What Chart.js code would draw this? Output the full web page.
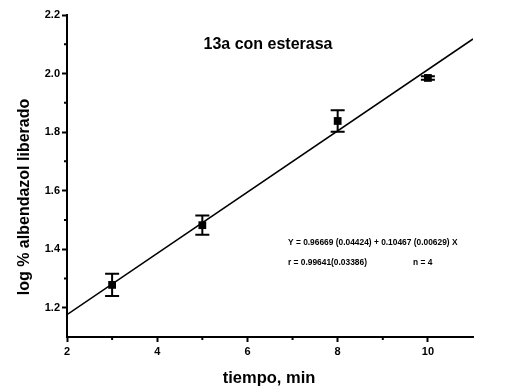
<!DOCTYPE html>
<html>
<head>
<meta charset="utf-8">
<script src="https://cdn.jsdelivr.net/npm/chart.js@4.4.0/dist/chart.umd.min.js"></script>
<style>
  html, body { margin: 0; padding: 0; background: #fff; }
  #wrap { width: 510px; height: 392px; }
</style>
</head>
<body>
<div id="wrap"><canvas id="c" width="510" height="392"></canvas></div>
<script>
// Release of albendazol from 13a with esterase: mean log % released and its error
const timeMin = [3, 5, 8, 10];
const logReleased = [1.278, 1.482, 1.838, 1.985];
const logReleasedErr = [0.038, 0.033, 0.037, 0.006];

// Axis extents and minor tick positions
const xRange = [2, 11];
const yRange = [1.1, 2.2];
const xMinorTicks = [3, 5, 7, 9];
const yMinorTicks = [1.3, 1.5, 1.7, 1.9, 2.1];

// Least-squares fit as printed on the figure
const fitIntercept = 0.96669;
const fitSlope = 0.10467;
const fitEquation = 'Y = 0.96669 (0.04424) + 0.10467 (0.00629) X';
const fitCorrelation = 'r = 0.99641(0.03386)';
const fitCount = 'n = 4';
const chartTitle = '13a con esterasa';
const yTitle = 'log % albendazol liberado';
const xTitle = 'tiempo, min';

const FONT = '"Liberation Sans", Arial, Helvetica, sans-serif';
const fitPoints = xRange.map(x => ({ x: x, y: fitIntercept + fitSlope * x }));
const meanPoints = timeMin.map((t, i) => ({ x: t, y: logReleased[i] }));

// Vertical error bars with caps, drawn through the scales
const errorBars = {
  id: 'errorBars',
  afterDatasetsDraw(chart) {
    const { ctx, scales: { x, y } } = chart;
    ctx.save();
    ctx.strokeStyle = '#000';
    ctx.lineWidth = 2;
    timeMin.forEach((t, i) => {
      const px = x.getPixelForValue(t);
      const top = y.getPixelForValue(logReleased[i] + logReleasedErr[i]);
      const bot = y.getPixelForValue(logReleased[i] - logReleasedErr[i]);
      ctx.beginPath();
      ctx.moveTo(px, top); ctx.lineTo(px, bot);
      ctx.moveTo(px - 7, top); ctx.lineTo(px + 7, top);
      ctx.moveTo(px - 7, bot); ctx.lineTo(px + 7, bot);
      ctx.stroke();
    });
    ctx.restore();
  }
};

// Short minor ticks straddling each axis line
const minorTicks = {
  id: 'minorTicks',
  afterDraw(chart) {
    const { ctx, chartArea: a, scales: { x, y } } = chart;
    ctx.save();
    ctx.strokeStyle = '#000';
    ctx.lineWidth = 2;
    ctx.beginPath();
    xMinorTicks.forEach(v => {
      const px = x.getPixelForValue(v);
      ctx.moveTo(px, a.bottom - 1); ctx.lineTo(px, a.bottom + 3);
    });
    yMinorTicks.forEach(v => {
      const py = y.getPixelForValue(v);
      ctx.moveTo(a.left - 3, py); ctx.lineTo(a.left + 1, py);
    });
    ctx.stroke();
    ctx.restore();
  }
};

// Panel title, fit annotation and axis titles
const annotations = {
  id: 'annotations',
  afterDraw(chart) {
    const { ctx, chartArea: a } = chart;
    ctx.save();
    ctx.fillStyle = '#000';
    ctx.textBaseline = 'middle';

    ctx.font = 'bold 16px ' + FONT;
    ctx.textAlign = 'center';
    ctx.fillText(chartTitle, 268, 45);

    ctx.font = 'bold 8.4px ' + FONT;
    ctx.textAlign = 'left';
    ctx.fillText(fitEquation, 288, 243);
    ctx.fillText(fitCorrelation, 288, 263);
    ctx.fillText(fitCount, 413, 263);

    ctx.font = 'bold 16.5px ' + FONT;
    ctx.textAlign = 'center';
    ctx.fillText(xTitle, 269, 378);

    ctx.font = 'bold 16px ' + FONT;
    ctx.translate(25, 197);
    ctx.rotate(-Math.PI / 2);
    ctx.fillText(yTitle, 0, 0);
    ctx.restore();
  }
};

new Chart(document.getElementById('c'), {
  type: 'scatter',
  data: {
    datasets: [
      {
        type: 'line',
        data: fitPoints,
        borderColor: '#000',
        borderWidth: 1.5,
        pointRadius: 0,
        fill: false,
        tension: 0
      },
      {
        data: meanPoints,
        pointStyle: 'rect',
        pointRadius: 5.5,
        pointHoverRadius: 5.5,
        backgroundColor: '#000',
        borderColor: '#000',
        borderWidth: 0
      }
    ]
  },
  options: {
    responsive: false,
    animation: false,
    devicePixelRatio: 1,
    layout: { padding: { left: 0, right: 37, top: 15, bottom: 0 } },
    plugins: { legend: { display: false }, tooltip: { enabled: false } },
    scales: {
      x: {
        type: 'linear',
        min: xRange[0],
        max: xRange[1],
        afterFit(s) { s.height = 55; },
        border: { display: true, color: '#000', width: 2 },
        grid: { drawOnChartArea: false, drawTicks: true, tickLength: 5, tickColor: '#000', tickWidth: 2 },
        ticks: {
          stepSize: 2,
          includeBounds: false,
          color: '#000',
          padding: 3,
          maxRotation: 0,
          font: { family: FONT, size: 11, weight: 'bold' },
          callback: v => String(v)
        }
      },
      y: {
        type: 'linear',
        min: yRange[0],
        max: yRange[1],
        afterFit(s) { s.width = 67; },
        border: { display: true, color: '#000', width: 2 },
        grid: { drawOnChartArea: false, drawTicks: true, tickLength: 5, tickColor: '#000', tickWidth: 2 },
        ticks: {
          stepSize: 0.2,
          includeBounds: false,
          color: '#000',
          padding: 2,
          font: { family: FONT, size: 11, weight: 'bold' },
          callback: v => Number(v).toFixed(1)
        }
      }
    }
  },
  plugins: [errorBars, minorTicks, annotations]
});
</script>
</body>
</html>
